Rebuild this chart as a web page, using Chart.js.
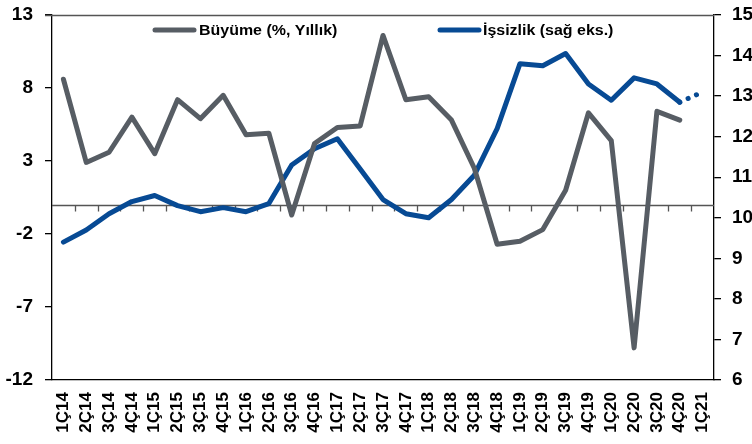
<!DOCTYPE html>
<html>
<head>
<meta charset="utf-8">
<script src="https://cdn.jsdelivr.net/npm/chart.js@4.4.1/dist/chart.umd.min.js"></script>
<style>
  html, body { margin: 0; padding: 0; background: #fff; }
  #wrap { width: 752px; height: 444px; }
</style>
</head>
<body>
<div id="wrap"><canvas id="chart" width="752" height="444"></canvas></div>
<script>
// Quarterly labels and series
const quarters = [
  '1Ç14', '2Ç14', '3Ç14', '4Ç14', '1Ç15', '2Ç15', '3Ç15', '4Ç15',
  '1Ç16', '2Ç16', '3Ç16', '4Ç16', '1Ç17', '2Ç17', '3Ç17', '4Ç17',
  '1Ç18', '2Ç18', '3Ç18', '4Ç18', '1Ç19', '2Ç19', '3Ç19', '4Ç19',
  '1Ç20', '2Ç20', '3Ç20', '4Ç20', '1Ç21'
];
const growth = [
  8.6, 2.9, 3.6, 6.0, 3.5, 7.2, 5.9, 7.5,
  4.8, 4.9, -0.7, 4.2, 5.3, 5.4, 11.6, 7.2,
  7.4, 5.8, 2.5, -2.7, -2.5, -1.7, 1.0, 6.3,
  4.4, -9.8, 6.4, 5.8, null
];
const unemployment = [
  9.4, 9.7, 10.1, 10.4, 10.55, 10.3, 10.15, 10.25,
  10.15, 10.35, 11.3, 11.7, 11.95, 11.2, 10.45, 10.1,
  10.0, 10.45, 11.05, 12.2, 13.8, 13.75, 14.05, 13.3,
  12.9, 13.45, 13.3, 12.85, 13.1
];
const growthLabel = 'Büyüme (%, Yıllık)';
const unemploymentLabel = 'İşsizlik (sağ eks.)';

const GREY = '#575d64';
const BLUE = '#074a94';
const FONT = '"Liberation Sans", Arial, sans-serif';

// zero line with small ticks between quarters, plus top frame line
const zeroLine = {
  id: 'zeroLine',
  beforeDatasetsDraw(chart) {
    const { ctx, chartArea: a, scales } = chart;
    const y0 = Math.round(scales.y.getPixelForValue(0)) + 0.5;
    const step = (a.right - a.left) / quarters.length;
    ctx.save();
    ctx.strokeStyle = '#555';
    ctx.lineWidth = 1.3;
    ctx.beginPath();
    ctx.moveTo(a.left, y0);
    ctx.lineTo(a.right, y0);
    for (let i = 1; i < quarters.length; i++) {
      const x = Math.round(scales.x.getPixelForValue(i) - step / 2) + 0.5;
      ctx.moveTo(x, y0);
      ctx.lineTo(x, y0 + 6);
    }
    ctx.moveTo(a.left - 7, a.top + 0.5);
    ctx.lineTo(a.right, a.top + 0.5);
    ctx.stroke();
    ctx.restore();
  }
};

// legend drawn inside the plot, as in the original (text is a bit wide there)
const insideLegend = {
  id: 'insideLegend',
  afterDraw(chart) {
    const { ctx } = chart;
    const items = [
      { text: growthLabel, color: GREY, x0: 155, x1: 194, tx: 199 },
      { text: unemploymentLabel, color: BLUE, x0: 440, x1: 479, tx: 483 }
    ];
    const y = 30;
    ctx.save();
    ctx.font = 'bold 14px ' + FONT;
    ctx.textBaseline = 'middle';
    ctx.fillStyle = '#000';
    items.forEach(it => {
      ctx.strokeStyle = it.color;
      ctx.lineWidth = 5;
      ctx.lineCap = 'round';
      ctx.beginPath();
      ctx.moveTo(it.x0, y);
      ctx.lineTo(it.x1, y);
      ctx.stroke();
      ctx.save();
      ctx.translate(it.tx, y + 1);
      ctx.scale(1.14, 1);
      ctx.fillText(it.text, 0, 0);
      ctx.restore();
    });
    ctx.restore();
  }
};

// fixed axis sizes; drop the label overhang padding so the plot keeps its place
function fixSize(w, h) {
  return scale => {
    if (w) scale.width = w;
    if (h) scale.height = h;
    scale.paddingTop = 0;
    scale.paddingBottom = 0;
    scale.paddingLeft = 0;
    scale.paddingRight = 0;
  };
}

const tickFont = { family: FONT, size: 19, weight: 'bold' };

new Chart(document.getElementById('chart'), {
  type: 'line',
  data: {
    labels: quarters,
    datasets: [
      {
        label: growthLabel,
        data: growth,
        yAxisID: 'y',
        borderColor: GREY,
        borderWidth: 5,
        borderJoinStyle: 'round',
        borderCapStyle: 'round',
        pointRadius: 0,
        tension: 0,
        fill: false
      },
      {
        label: unemploymentLabel,
        data: unemployment,
        yAxisID: 'y1',
        borderColor: BLUE,
        borderWidth: 5,
        borderJoinStyle: 'round',
        borderCapStyle: 'round',
        pointRadius: 0,
        tension: 0,
        fill: false,
        segment: {
          // last quarter is a forecast: dotted
          borderDash: ctx => ctx.p1DataIndex === quarters.length - 1 ? [0.1, 9] : undefined
        }
      }
    ]
  },
  options: {
    responsive: false,
    animation: false,
    layout: { padding: { top: 15, left: 0, right: 0, bottom: 0 } },
    plugins: {
      legend: { display: false },
      tooltip: { enabled: false }
    },
    scales: {
      x: {
        offset: true,
        grid: { display: false, drawTicks: false },
        border: { display: true, color: '#000', width: 1.3 },
        ticks: {
          autoSkip: false,
          maxRotation: 90,
          minRotation: 90,
          padding: 12,
          color: '#000',
          font: { family: FONT, size: 17, weight: 'bold' }
        },
        afterFit: fixSize(0, 64)
      },
      y: {
        position: 'left',
        min: -12,
        max: 13,
        ticks: { stepSize: 5, padding: 12, color: '#000', font: tickFont },
        grid: { drawOnChartArea: false, drawTicks: true, tickLength: 7, color: '#000', lineWidth: 1.3 },
        border: { color: '#000', width: 1.3 },
        afterFit: fixSize(52, 0)
      },
      y1: {
        position: 'right',
        min: 6,
        max: 15,
        ticks: { stepSize: 1, padding: 11, color: '#000', font: tickFont },
        grid: { drawOnChartArea: false, drawTicks: true, tickLength: 7, color: '#000', lineWidth: 1.3 },
        border: { color: '#000', width: 1.3 },
        afterFit: fixSize(38, 0)
      }
    }
  },
  plugins: [zeroLine, insideLegend]
});
</script>
</body>
</html>
